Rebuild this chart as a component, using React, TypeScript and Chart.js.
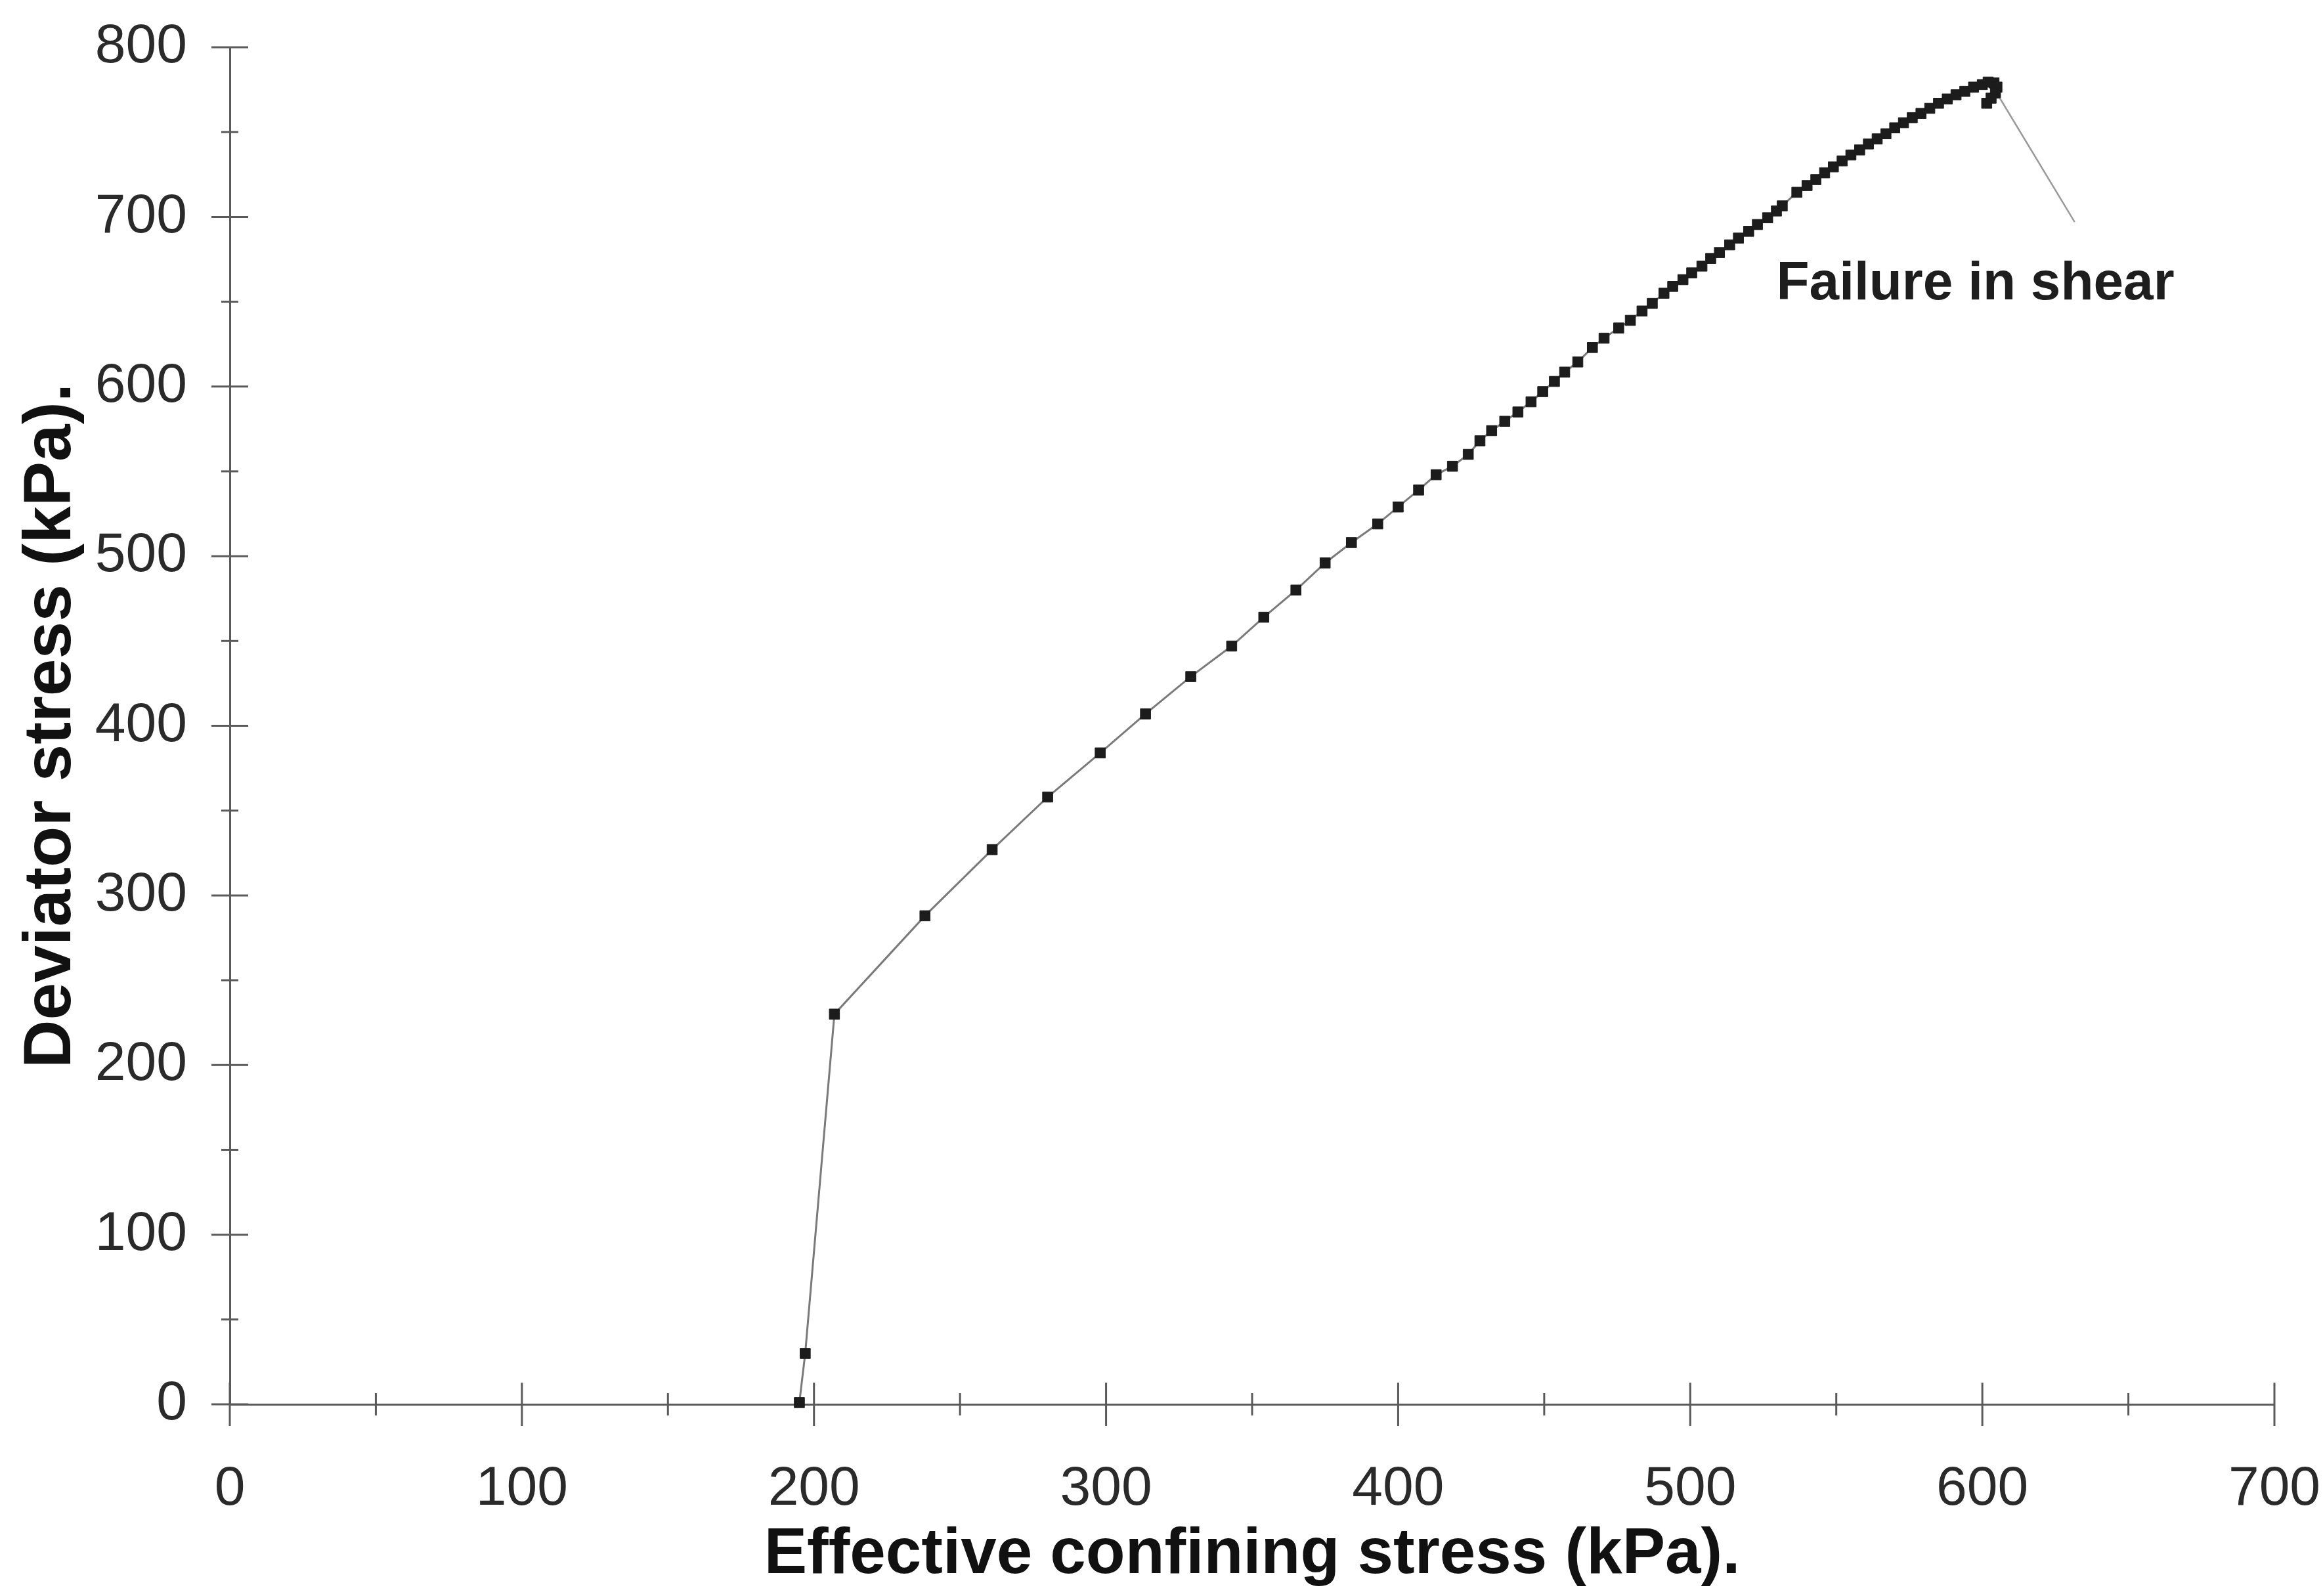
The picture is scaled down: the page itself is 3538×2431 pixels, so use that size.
import { useEffect, useRef } from "react";
import { Chart, registerables } from "chart.js";

Chart.register(...registerables);

// Triaxial stress path: effective confining stress p' (kPa) vs deviator stress q (kPa)
const confiningStress: number[] = [
  195, 197, 207, 238, 261, 280, 298, 313.5, 329, 343,
  354, 365, 375, 384, 393, 400, 407, 413, 418.6, 424,
  428, 432, 436.5, 441, 445.5, 449.5, 453.5, 457, 461.5, 466.5,
  470.5, 475.5, 479.5, 483.5, 487, 491, 494, 497.5, 500.5, 504,
  507, 510, 513.5, 516.5, 520, 523, 526.5, 529.5, 531.5, 536.5,
  540, 543, 546, 549, 552, 555, 558, 561, 564, 567,
  570, 573, 576, 579, 582, 585, 588, 591, 594, 597,
  600, 602, 604, 605, 604.5, 603, 601.5,
];

const deviatorStress: number[] = [
  1, 30, 230, 288, 327, 358, 384, 407, 429, 447,
  464, 480, 496, 508, 519, 529, 539, 548, 553, 560,
  568, 574, 579.5, 585, 591, 597, 603, 608.5, 614.5, 623,
  628.5, 634.5, 639, 644.5, 649, 655, 659, 663, 667, 671,
  675.5, 679, 683.5, 687.5, 691.5, 695.5, 699.5, 703.5, 706.5, 714.5,
  718.5, 722, 726, 729.5, 733, 736.5, 739.5, 743, 746, 749,
  752.5, 755.5, 758.5, 761, 764, 767, 769.5, 772, 774, 776.5,
  778, 779.5, 779, 776.5, 773, 770, 767,
];

// Labelled tick values; ticks are placed every 50 kPa, labels every 100
const xTickLabels: number[] = [0, 100, 200, 300, 400, 500, 600, 700];
const yTickLabels: number[] = [0, 100, 200, 300, 400, 500, 600, 700, 800];

const X_TITLE = "Effective confining stress (kPa).";
const Y_TITLE = "Deviator stress (kPa).";

// Callout for the failure point (in data units)
const FAILURE_TEXT = "Failure in shear";
const FAILURE_LEADER_FROM = { x: 606, y: 770 };
const FAILURE_LEADER_TO = { x: 631.6, y: 697 };
const FAILURE_TEXT_AT = { x: 529.5, y: 651.5 };

const FONT = '"Liberation Sans", Arial, Helvetica, sans-serif';
const AXIS_COLOR = "#5a5a5a";

const crossTicks = {
  id: "crossTicks",
  afterDraw(chart: any) {
    const { ctx, chartArea, scales } = chart;
    const xs = scales.x;
    const ys = scales.y;
    ctx.save();
    ctx.strokeStyle = AXIS_COLOR;
    ctx.lineWidth = 3;
    for (const t of xs.ticks) {
      const px = xs.getPixelForValue(t.value);
      const half = xTickLabels.includes(t.value) ? 33 : 17;
      ctx.beginPath();
      ctx.moveTo(px, chartArea.bottom - half);
      ctx.lineTo(px, chartArea.bottom + half);
      ctx.stroke();
    }
    for (const t of ys.ticks) {
      const py = ys.getPixelForValue(t.value);
      const half = yTickLabels.includes(t.value) ? 28 : 13;
      ctx.beginPath();
      ctx.moveTo(chartArea.left - half, py);
      ctx.lineTo(chartArea.left + half, py);
      ctx.stroke();
    }
    ctx.restore();
  },
};

const failureCallout = {
  id: "failureCallout",
  afterDraw(chart: any) {
    const { ctx, scales } = chart;
    const xs = scales.x;
    const ys = scales.y;
    ctx.save();
    ctx.strokeStyle = "#9a9a9a";
    ctx.lineWidth = 2.5;
    ctx.beginPath();
    ctx.moveTo(xs.getPixelForValue(FAILURE_LEADER_FROM.x), ys.getPixelForValue(FAILURE_LEADER_FROM.y));
    ctx.lineTo(xs.getPixelForValue(FAILURE_LEADER_TO.x), ys.getPixelForValue(FAILURE_LEADER_TO.y));
    ctx.stroke();
    ctx.fillStyle = "#1e1e1e";
    ctx.font = `bold 82px ${FONT}`;
    ctx.textAlign = "left";
    ctx.textBaseline = "alphabetic";
    ctx.fillText(FAILURE_TEXT, xs.getPixelForValue(FAILURE_TEXT_AT.x), ys.getPixelForValue(FAILURE_TEXT_AT.y));
    ctx.restore();
  },
};

export default function App() {
  const canvasRef = useRef<HTMLCanvasElement | null>(null);

  useEffect(() => {
    const canvas = canvasRef.current;
    if (!canvas) return;
    const points = confiningStress.map((x, i) => ({ x, y: deviatorStress[i] }));

    const chart = new Chart(canvas, {
      type: "scatter",
      data: {
        datasets: [
          {
            label: "Stress path",
            data: points,
            showLine: true,
            borderColor: "#7a7a7a",
            borderWidth: 3,
            pointStyle: "rect",
            pointRadius: 11,
            pointBackgroundColor: "#1c1c1c",
            pointBorderColor: "#1c1c1c",
            pointBorderWidth: 1,
            clip: false,
          } as any,
        ],
      },
      options: {
        responsive: false,
        animation: false,
        devicePixelRatio: 1,
        layout: { padding: { left: 0, right: 74, top: 72, bottom: 0 } },
        plugins: {
          legend: { display: false },
          tooltip: { enabled: false },
        },
        scales: {
          x: {
            type: "linear",
            min: 0,
            max: 700,
            grid: { display: false },
            border: { display: true, color: AXIS_COLOR, width: 3 },
            ticks: {
              stepSize: 50,
              autoSkip: false,
              maxRotation: 0,
              padding: 71,
              color: "#2a2a2a",
              font: { family: FONT, size: 84 },
              callback: (v: any) => (xTickLabels.includes(Number(v)) ? String(v) : ""),
            },
            title: {
              display: true,
              text: X_TITLE,
              color: "#111111",
              font: { family: FONT, size: 98, weight: "bold" },
              padding: { top: 0, bottom: 3 },
            },
            afterFit: (scale: any) => {
              scale.height = 292;
              scale.paddingLeft = 0;
              scale.paddingRight = 0;
            },
          },
          y: {
            type: "linear",
            min: 0,
            max: 800,
            grid: { display: false },
            border: { display: true, color: AXIS_COLOR, width: 3 },
            ticks: {
              stepSize: 50,
              autoSkip: false,
              padding: 57,
              color: "#2a2a2a",
              font: { family: FONT, size: 84 },
              callback: (v: any) => (yTickLabels.includes(Number(v)) ? String(v) : ""),
            },
            title: {
              display: true,
              text: Y_TITLE,
              color: "#111111",
              font: { family: FONT, size: 102, weight: "bold" },
              padding: { top: 18, bottom: 0 },
            },
            afterFit: (scale: any) => {
              scale.width = 350;
              scale.paddingTop = 0;
              scale.paddingBottom = 0;
            },
          },
        },
      } as any,
      plugins: [crossTicks, failureCallout],
    });

    return () => chart.destroy();
  }, []);

  return (
    <div
      style={{
        position: "fixed",
        left: 0,
        top: 0,
        width: 3538,
        height: 2431,
        background: "#ffffff",
      }}
    >
      <canvas ref={canvasRef} width={3538} height={2431} style={{ display: "block" }} />
    </div>
  );
}
